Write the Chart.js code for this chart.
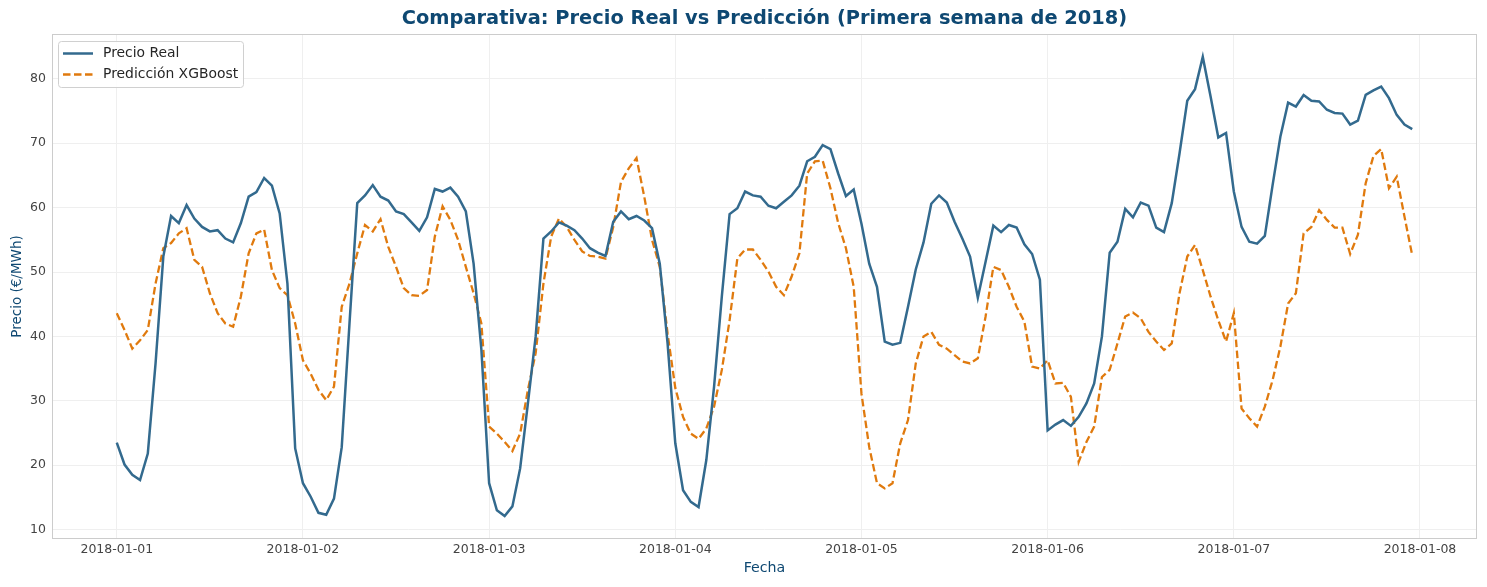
<!DOCTYPE html>
<html>
<head>
<meta charset="utf-8">
<script src="https://cdn.jsdelivr.net/npm/chart.js@4.4.1/dist/chart.umd.min.js"></script>
<style>
  html, body { margin: 0; padding: 0; background: #ffffff; }
  #c { display: block; }
</style>
</head>
<body>
<canvas id="c" width="1487" height="587"></canvas>
<script>
// ---- Data (hourly, 2018-01-01 00:00 .. 2018-01-07 23:00) ----
const dateLabels = ['2018-01-01','2018-01-02','2018-01-03','2018-01-04','2018-01-05','2018-01-06','2018-01-07','2018-01-08'];
const yTicks = [10, 20, 30, 40, 50, 60, 70, 80];

const precioReal = [
  23.5, 20.1, 18.5, 17.7, 21.8, 35.8, 52.4, 58.7, 57.6, 60.4, 58.3, 57.0, 56.3, 56.5, 55.2, 54.6, 57.6, 61.7, 62.4, 64.6, 63.4, 59.1, 48.2, 22.6,
  17.2, 15.1, 12.6, 12.3, 14.8, 22.8, 42.0, 60.7, 61.9, 63.5, 61.7, 61.1, 59.4, 59.0, 57.7, 56.4, 58.5, 62.9, 62.5, 63.1, 61.7, 59.4, 51.3, 38.0,
  17.2, 13.0, 12.1, 13.6, 19.5, 29.6, 40.0, 55.2, 56.3, 57.7, 57.2, 56.5, 55.2, 53.7, 53.0, 52.5, 57.8, 59.4, 58.2, 58.7, 58.0, 56.8, 51.3, 39.0,
  23.4, 16.1, 14.3, 13.5, 20.8, 32.2, 46.2, 59.0, 59.9, 62.5, 61.9, 61.7, 60.3, 59.9, 60.9, 61.9, 63.4, 67.2, 67.9, 69.7, 69.1, 65.3, 61.8, 62.8,
  57.5, 51.3, 47.7, 39.2, 38.7, 39.0, 44.6, 50.4, 54.6, 60.6, 61.9, 60.8, 57.8, 55.2, 52.4, 46.0, 51.6, 57.2, 56.2, 57.3, 56.9, 54.3, 52.8, 48.8,
  25.4, 26.3, 27.0, 26.1, 27.5, 29.6, 32.7, 40.0, 53.0, 54.7, 59.8, 58.5, 60.8, 60.3, 56.9, 56.2, 60.7, 68.4, 76.6, 78.4, 83.4, 77.3, 70.9, 71.6,
  62.5, 57.0, 54.7, 54.4, 55.6, 63.5, 71.0, 76.3, 75.7, 77.5, 76.6, 76.5, 75.2, 74.7, 74.6, 72.9, 73.5, 77.5, 78.2, 78.8, 77.0, 74.4, 72.9, 72.2
];

const prediccionXGB = [
  43.6, 41.0, 38.1, 39.4, 41.0, 48.2, 53.7, 54.5, 56.0, 56.8, 51.9, 50.8, 46.7, 43.6, 42.0, 41.5, 46.2, 52.9, 56.0, 56.6, 50.3, 47.5, 46.4, 42.0,
  36.3, 34.2, 31.7, 30.1, 32.2, 44.6, 48.2, 52.9, 57.3, 56.3, 58.2, 53.9, 50.8, 47.5, 46.4, 46.3, 47.2, 55.5, 60.2, 58.1, 55.0, 50.8, 46.7, 42.0,
  26.0, 24.9, 23.6, 22.2, 24.9, 31.7, 37.4, 48.2, 55.5, 58.3, 57.0, 55.0, 53.2, 52.5, 52.4, 52.1, 57.0, 64.0, 66.1, 67.7, 61.7, 55.0, 50.8, 40.5,
  32.0, 27.5, 24.9, 24.1, 25.7, 29.1, 34.8, 42.5, 52.1, 53.5, 53.5, 51.9, 50.1, 47.7, 46.4, 49.3, 52.9, 65.3, 67.2, 67.3, 63.0, 57.6, 53.7, 47.7,
  31.1, 22.8, 17.2, 16.4, 17.2, 23.4, 27.0, 35.8, 40.0, 40.7, 38.7, 38.1, 37.1, 36.1, 35.8, 36.6, 43.1, 50.8, 50.3, 47.7, 44.6, 42.3, 35.3, 35.0,
  36.3, 32.7, 32.8, 30.6, 20.5, 23.6, 26.0, 33.7, 34.8, 38.9, 43.1, 43.7, 42.8, 40.7, 39.2, 37.9, 38.9, 46.7, 52.4, 54.2, 50.3, 46.2, 42.5, 39.2,
  43.6, 28.8, 27.3, 26.0, 29.1, 33.2, 38.4, 45.1, 46.7, 56.0, 57.0, 59.6, 58.1, 56.9, 56.9, 52.8, 55.8, 63.8, 68.0, 69.1, 63.0, 64.8, 58.6, 52.6
];

const seriesLabels = ['Precio Real', 'Predicción XGBoost'];
const titleText = 'Comparativa: Precio Real vs Predicción (Primera semana de 2018)';
const xTitle = 'Fecha';
const yTitle = 'Precio (€/MWh)';

// ---- Styles ----
const COLOR_REAL = '#336a8e';
const COLOR_PRED = '#e07a0e';
const TITLE_COLOR = '#0e4872';
const FONT = '"DejaVu Sans", sans-serif';

const toXY = arr => arr.map((v, i) => ({ x: i, y: v }));

const n = precioReal.length;
const xMargin = (n - 1) * 0.05;
const allVals = precioReal.concat(prediccionXGB);
const yMinD = Math.min(...allVals), yMaxD = Math.max(...allVals);
const yMargin = (yMaxD - yMinD) * 0.05;

const framePlugin = {
  id: 'frameAndExtras',
  afterDraw(chart) {
    const { ctx, chartArea: a } = chart;
    ctx.save();
    // frame
    ctx.strokeStyle = '#cccccc';
    ctx.lineWidth = 1;
    ctx.strokeRect(Math.round(a.left) + 0.5, Math.round(a.top) + 0.5, Math.round(a.right - a.left) - 1, Math.round(a.bottom - a.top) - 1);
    // title
    ctx.fillStyle = TITLE_COLOR;
    ctx.font = 'bold 19.4px ' + FONT;
    ctx.textAlign = 'center';
    ctx.textBaseline = 'middle';
    ctx.fillText(titleText, (a.left + a.right) / 2, 19);
    // legend
    const lx = a.left + 6, ly = a.top + 7, lw = 185, lh = 46;
    ctx.fillStyle = 'rgba(255,255,255,0.85)';
    ctx.strokeStyle = '#d0d0d0';
    ctx.lineWidth = 1;
    ctx.beginPath();
    if (ctx.roundRect) ctx.roundRect(lx + 0.5, ly + 0.5, lw, lh, 3); else ctx.rect(lx + 0.5, ly + 0.5, lw, lh);
    ctx.fill();
    ctx.stroke();
    const ds = chart.data.datasets;
    ds.forEach((d, i) => {
      const yy = ly + 12.5 + i * 21;
      ctx.strokeStyle = d.borderColor;
      ctx.lineWidth = d.borderWidth;
      ctx.setLineDash(d.borderDash || []);
      ctx.beginPath();
      ctx.moveTo(lx + 5, yy);
      ctx.lineTo(lx + 35, yy);
      ctx.stroke();
      ctx.setLineDash([]);
      ctx.fillStyle = '#262626';
      ctx.font = '13.9px ' + FONT;
      ctx.textAlign = 'left';
      ctx.textBaseline = 'middle';
      ctx.fillText(d.label, lx + 45, yy);
    });
    ctx.restore();
  }
};

new Chart(document.getElementById('c'), {
  type: 'line',
  data: {
    datasets: [
      {
        label: seriesLabels[0],
        data: toXY(precioReal),
        borderColor: COLOR_REAL,
        backgroundColor: COLOR_REAL,
        borderWidth: 2.5,
        pointRadius: 0,
        tension: 0,
        fill: false
      },
      {
        label: seriesLabels[1],
        data: toXY(prediccionXGB),
        borderColor: COLOR_PRED,
        backgroundColor: COLOR_PRED,
        borderWidth: 2.3,
        borderDash: [7.5, 3.5],
        pointRadius: 0,
        tension: 0,
        fill: false
      }
    ]
  },
  options: {
    responsive: false,
    animation: false,
    devicePixelRatio: 1,
    layout: { padding: { top: 34, right: 10, left: 0, bottom: 0 } },
    plugins: {
      legend: { display: false },
      title: { display: false },
      tooltip: { enabled: false }
    },
    scales: {
      x: {
        type: 'linear',
        min: -xMargin,
        max: (n - 1) + xMargin,
        afterFit(scale) { scale.height = 48; },
        afterBuildTicks(scale) { scale.ticks = dateLabels.map((d, i) => ({ value: i * 24 })); },
        border: { display: false },
        grid: { color: '#efefef', lineWidth: 1, drawTicks: false },
        ticks: {
          color: '#444444',
          font: { family: FONT, size: 12.5 },
          padding: 3,
          maxRotation: 0,
          autoSkip: false,
          callback: (v) => dateLabels[Math.round(v / 24)]
        },
        title: {
          display: true,
          text: xTitle,
          color: TITLE_COLOR,
          font: { family: FONT, size: 14.2 },
          padding: { top: 0, bottom: 10 }
        }
      },
      y: {
        min: yMinD - yMargin,
        max: yMaxD + yMargin,
        afterFit(scale) { scale.width = 52; },
        afterBuildTicks(scale) { scale.ticks = yTicks.map(v => ({ value: v })); },
        border: { display: false },
        grid: { color: '#efefef', lineWidth: 1, drawTicks: false },
        ticks: {
          color: '#444444',
          font: { family: FONT, size: 12.5 },
          padding: 6,
          callback: (v) => String(v)
        },
        title: {
          display: true,
          text: yTitle,
          color: TITLE_COLOR,
          font: { family: FONT, size: 13.5 },
          padding: { top: 9, bottom: 0 }
        }
      }
    }
  },
  plugins: [framePlugin]
});
</script>
</body>
</html>
